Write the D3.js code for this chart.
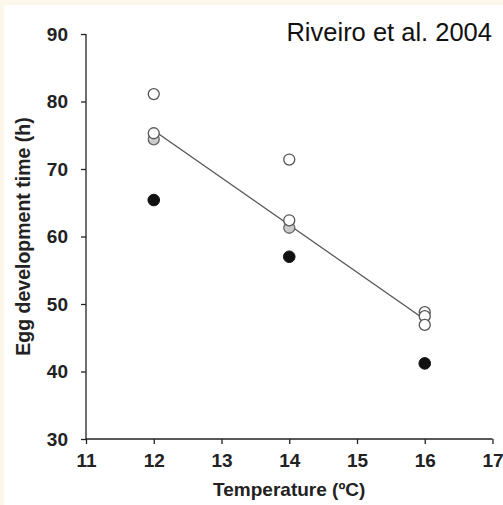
<!DOCTYPE html>
<html><head><meta charset="utf-8">
<script src="https://cdn.jsdelivr.net/npm/d3@7"></script>
<style>
html,body{margin:0;padding:0;background:#fff;}
svg{display:block;}
</style></head>
<body>
<svg id="c" width="503" height="505"></svg>
<script>
// Data
const xTicks = [11, 12, 13, 14, 15, 16, 17];
const yTicks = [30, 40, 50, 60, 70, 80, 90];
const openTemps = [12, 12, 14, 14, 16, 16, 16];
const openValues = [81.1, 75.3, 71.4, 62.4, 48.8, 48.2, 46.9];
const grayTemps = [12, 14];
const grayValues = [74.4, 61.3];
const blackTemps = [12, 14, 16];
const blackValues = [65.4, 57.0, 41.2];
const fitTemps = [12, 16];
const fitValues = [75.7, 47.7];
const title = "Riveiro et al. 2004";

const svg = d3.select("#c");
// cream border
svg.append("rect").attr("x",0).attr("y",0).attr("width",503).attr("height",505).attr("fill","#fdf6ea");
svg.append("rect").attr("x",4).attr("y",5).attr("width",499).attr("height",500).attr("fill","#fff");

const x = d3.scaleLinear().domain([11,17]).range([86,492.5]);
const y = d3.scaleLinear().domain([30,90]).range([439,34]);

const font = "'Liberation Sans', Arial, sans-serif";

const xAxis = svg.append("g").attr("transform","translate(0,439)")
  .call(d3.axisBottom(x).tickValues(xTicks).tickSize(5).tickPadding(9.5).tickFormat(d3.format("d")));
const yAxis = svg.append("g").attr("transform","translate(86,0)")
  .call(d3.axisLeft(y).tickValues(yTicks).tickSize(5).tickPadding(13).tickFormat(d3.format("d")));
[xAxis,yAxis].forEach(a=>{
  a.select(".domain").attr("stroke","#222").attr("stroke-width",1.3);
  a.selectAll(".tick line").attr("stroke","#222").attr("stroke-width",1.3);
  a.selectAll("text").attr("font-family",font).attr("font-size",19).attr("font-weight","bold").attr("fill","#222");
});
xAxis.select(".domain").attr("d",`M${x(11)},0H${x(17)}`);
yAxis.select(".domain").attr("d",`M0,${y(30)}V${y(90)}`);

// fit line
svg.append("line")
  .attr("x1",x(fitTemps[0])).attr("y1",y(fitValues[0]))
  .attr("x2",x(fitTemps[1])).attr("y2",y(fitValues[1]))
  .attr("stroke","#555").attr("stroke-width",1.3);

const r = 5.5;
svg.append("g").selectAll("circle").data(blackTemps.map((t,i)=>[t,blackValues[i]])).join("circle")
  .attr("cx",d=>x(d[0])).attr("cy",d=>y(d[1])).attr("r",r+0.3).attr("fill","#111").attr("stroke","#111");
svg.append("g").selectAll("circle").data(grayTemps.map((t,i)=>[t,grayValues[i]])).join("circle")
  .attr("cx",d=>x(d[0])).attr("cy",d=>y(d[1])).attr("r",r).attr("fill","#ccc").attr("stroke","#666").attr("stroke-width",1.3);
svg.append("g").selectAll("circle").data(openTemps.map((t,i)=>[t,openValues[i]])).join("circle")
  .attr("cx",d=>x(d[0])).attr("cy",d=>y(d[1])).attr("r",r).attr("fill","#fff").attr("stroke","#555").attr("stroke-width",1.3);

// titles
svg.append("text").attr("x",x(14)).attr("y",496).attr("text-anchor","middle")
  .attr("font-family",font).attr("font-size",19).attr("font-weight","bold").attr("fill","#222")
  .text("Temperature (ºC)");
svg.append("text").attr("transform",`translate(30,${y(60)}) rotate(-90)`).attr("text-anchor","middle")
  .attr("font-family",font).attr("font-size",19.5).attr("font-weight","bold").attr("fill","#222")
  .text("Egg development time (h)");
svg.append("text").attr("x",492).attr("y",41).attr("text-anchor","end")
  .attr("font-family",font).attr("font-size",25.5).attr("fill","#111")
  .text(title);
</script>
</body></html>
